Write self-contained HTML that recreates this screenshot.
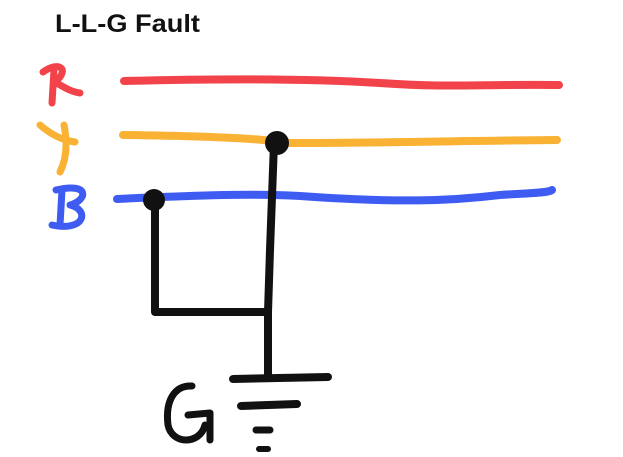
<!DOCTYPE html>
<html><head><style>
html,body{margin:0;padding:0;background:#fff;width:623px;height:457px;overflow:hidden}
</style></head><body>
<svg width="623" height="457" viewBox="0 0 623 457" xmlns="http://www.w3.org/2000/svg">
<rect width="623" height="457" fill="#fff"/>
<text x="55" y="32" font-family="Liberation Sans, sans-serif" font-weight="bold" font-size="25" fill="#111" textLength="145" lengthAdjust="spacingAndGlyphs">L-L-G Fault</text>
<g fill="none" stroke-linecap="round" stroke-linejoin="round">
<path d="M124,81 C200,79 300,78 380,83 C450,88 480,84 559,85" stroke="#f2434b" stroke-width="8"/>
<path d="M123,135 C200,136 260,138 290,143 C380,143 450,141 557,140" stroke="#f9b233" stroke-width="8"/>
<path d="M117,199 C180,196 250,193 300,196 C400,203 450,201 500,195 C530,193 548,193 552,190" stroke="#3f5cf2" stroke-width="8"/>
<path d="M43,72 C60,60 70,70 55,82 C65,88 72,92 80,93 M54,70 L52,103" stroke="#f2434b" stroke-width="7"/>
<path d="M40,125 C48,132 60,140 75,142 M64,125 C68,145 66,160 60,172" stroke="#f9b233" stroke-width="7"/>
<path d="M56,190 C90,182 88,200 70,205 C90,210 85,232 52,225 M62,190 L60,225" stroke="#3f5cf2" stroke-width="7"/>
<path d="M155,200 L155,312 L268,312" stroke="#111" stroke-width="8"/>
<path d="M274,143 L270,250 L268,312 L268,378" stroke="#111" stroke-width="8"/>
<path d="M233,379 L328,377" stroke="#111" stroke-width="8"/>
<path d="M241,406 L297,404" stroke="#111" stroke-width="8"/>
<path d="M256,430 L270,430" stroke="#111" stroke-width="7"/>
<path d="M259,449 L268,449" stroke="#111" stroke-width="6"/>
<path d="M192,386 C175,385 165,400 168,425 C172,445 200,445 205,425 M188,415 L210,413 L210,440" stroke="#111" stroke-width="7"/>
</g>
<circle cx="154" cy="200" r="11" fill="#111"/>
<circle cx="277" cy="143" r="12" fill="#111"/>
</svg>
</body></html>
